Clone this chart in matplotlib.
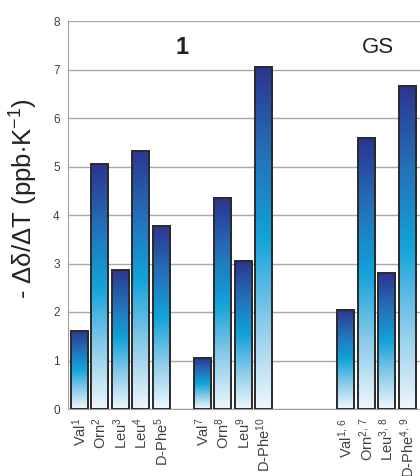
import numpy as np
import matplotlib
matplotlib.use('Agg')
from matplotlib import pyplot as plt
from matplotlib.colors import LinearSegmentedColormap

plt.rcParams['font.family'] = ['Liberation Sans', 'DejaVu Sans']
plt.rcParams['mathtext.fontset'] = 'custom'
plt.rcParams['mathtext.rm'] = 'Liberation Sans'
plt.rcParams['mathtext.it'] = 'Liberation Sans'

# data
labels_1 = [r'Val$^{1}$', r'Orn$^{2}$', r'Leu$^{3}$', r'Leu$^{4}$', r'D-Phe$^{5}$',
            r'Val$^{7}$', r'Orn$^{8}$', r'Leu$^{9}$', r'D-Phe$^{10}$']
values_1 = [1.61, 5.05, 2.87, 5.32, 3.78, 1.05, 4.35, 3.05, 7.05]
labels_gs = [r'Val$^{1,\,6}$', r'Orn$^{2,\,7}$', r'Leu$^{3,\,8}$', r'D-Phe$^{4,\,9}$']
values_gs = [2.05, 5.58, 2.80, 6.67]
slots = [0, 1, 2, 3, 4, 6, 7, 8, 9, 13, 14, 15, 16]

labels = labels_1 + labels_gs
values = values_1 + values_gs

W, H = 420, 476
fig = plt.figure(figsize=(W / 100, H / 100), dpi=100)
ax = fig.add_axes([68 / W, (H - 409) / H, (430 - 68) / W, (409 - 21) / H])

cmap = LinearSegmentedColormap.from_list(
    'barfill', [(0.0, '#eef7fd'), (0.25, '#8ccbea'), (0.5, '#12a3da'),
                (0.75, '#2470b8'), (1.0, '#2c3590')])
grad = np.linspace(0, 1, 256).reshape(-1, 1)

bw = 0.83
bars = ax.bar(slots, values, width=bw, facecolor='none', edgecolor='#2a2a2a',
              linewidth=1.4, zorder=3)
for b in bars:
    x0 = b.get_x()
    h = b.get_height()
    im = ax.imshow(grad, cmap=cmap, origin='lower', aspect='auto',
                   extent=[x0, x0 + bw, 0, h], zorder=2)
    im.set_clip_path(b)

ax.set_xlim(-0.56, 17.1)
ax.set_ylim(0, 8)
ax.set_yticks(range(0, 9))
ax.yaxis.grid(True, color='#a8a8a8', linewidth=1.0)
ax.set_axisbelow(True)
for s in ['top', 'right']:
    ax.spines[s].set_visible(False)
ax.spines['left'].set_color('#a0a0a0')
ax.spines['bottom'].set_color('#a0a0a0')
ax.tick_params(axis='y', length=0, pad=6, labelsize=8.5, labelcolor='#404040')
ax.tick_params(axis='x', length=0, pad=6, labelsize=10.5, labelcolor='#404040')
ax.set_xticks(slots)
ax.set_xticklabels(labels, rotation=90, va='top', ha='center')

ax.text(5.0, 7.45, '1', fontsize=17, fontweight='bold', ha='center', va='center',
        color='#222222')
ax.text(14.55, 7.45, 'GS', fontsize=16, ha='center', va='center', color='#222222')

fig.text(24 / W, 1 - 199 / H, r'- $\Delta\delta/\Delta$T (ppb$\cdot$K$^{-1}$)',
         rotation=90, fontsize=18.5, ha='center', va='center', color='#222222')

fig.savefig('out.png', dpi=100)
